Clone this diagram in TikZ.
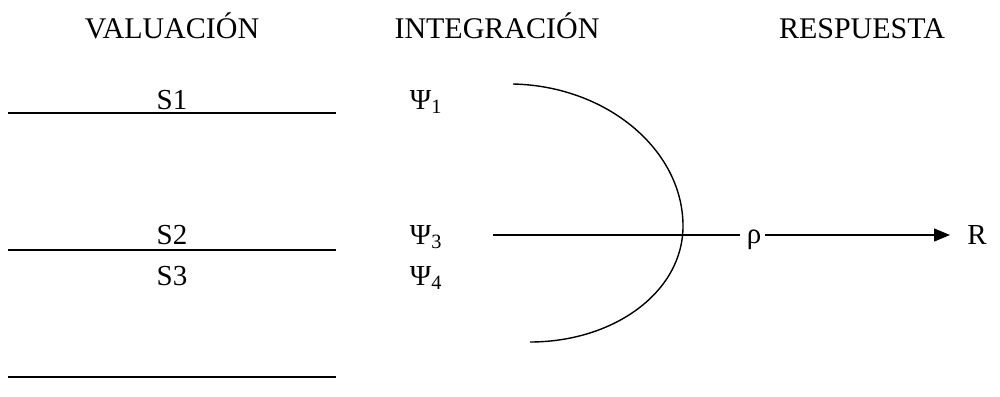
\documentclass[tikz,border=0pt]{standalone}
\usepackage{fontspec}
\setmainfont{Liberation Serif}
\usetikzlibrary{arrows.meta}
\begin{document}
\begin{tikzpicture}[x=1pt,y=-1pt,
  head/.style={font=\fontsize{30}{32}\selectfont, inner sep=0pt, anchor=base},
  lab/.style={font=\fontsize{29}{31}\selectfont, inner sep=0pt, anchor=base},
  rulel/.style={line width=1.6pt},
  conn/.style={line width=1.4pt}]
\useasboundingbox (0,0) rectangle (1000,396);
% headings
\node[head] (h1) at (172,38) {VALUACIÓN};
\node[head] (h2) at (497,38) {INTEGRACIÓN};
\node[head] (h3) at (862,38) {RESPUESTA};
% valuation labels
\node[lab] (s1) at (172,109) {S1};
\node[lab] (s2) at (172,244) {S2};
\node[lab] (s3) at (172,285) {S3};
\coordinate (l1a) at (8,113);  \coordinate (l1b) at (336,113);
\coordinate (l2a) at (8,250);  \coordinate (l2b) at (336,250);
\coordinate (l3a) at (8,377);  \coordinate (l3b) at (336,377);
\draw[rulel] (l1a) -- (l1b);
\draw[rulel] (l2a) -- (l2b);
\draw[rulel] (l3a) -- (l3b);
% integration labels
\node[lab] (p1) at (426,109) {Ψ\textsubscript{1}};
\node[lab] (p3) at (426,244) {Ψ\textsubscript{3}};
\node[lab] (p4) at (426,285) {Ψ\textsubscript{4}};
% arc
\coordinate (at) at (513,84);
\coordinate (ar) at (683,226);
\coordinate (ab) at (530,342);
\draw[conn] (at) .. controls (607,86) and (683,150) .. (ar)
            .. controls (683,292) and (614,342) .. (ab);
% horizontal line and response
\coordinate (hl) at (493,235);
\coordinate (hr) at (740,235);
\draw[conn] (hl) -- (hr);
\node[lab, anchor=center] (rho) at (754,240) {ρ};
\node[lab, anchor=center] (r) at (977,235) {R};
\draw[conn, -{Triangle[length=16pt,width=13pt]}] (rho.east) ++(4,-5) coordinate (ra) -- (950,235) coordinate (rb);
\end{tikzpicture}
\end{document}
